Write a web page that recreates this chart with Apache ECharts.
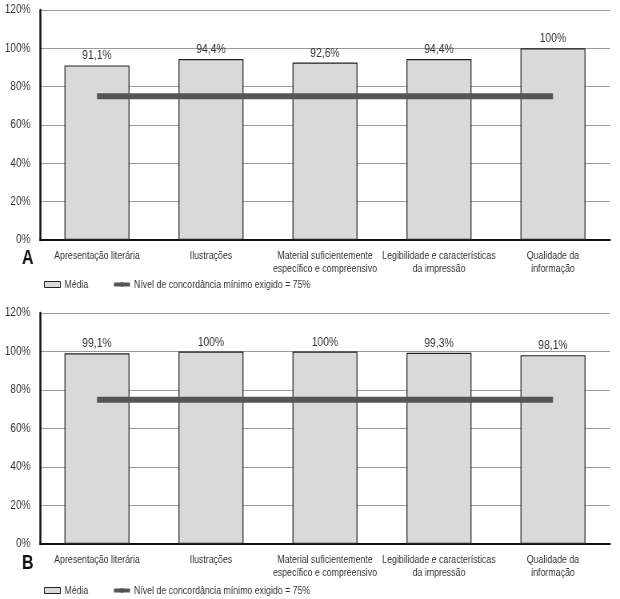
<!DOCTYPE html>
<html>
<head>
<meta charset="utf-8">
<script src="https://cdn.jsdelivr.net/npm/echarts@6/dist/echarts.min.js"></script>
<style>
html,body{margin:0;padding:0;background:#fff;overflow:hidden;width:620px;height:599px;}
/* condensed look: chart drawn wider, then squeezed horizontally */
#c{width:775px;height:599px;transform:scaleX(0.8);transform-origin:0 0;}
</style>
</head>
<body>
<div id="c"></div>
<script>
var categories = ['Apresentação literária', 'Ilustrações', 'Material suficientemente\nespecífico e compreensivo', 'Legibilidade e características\nda impressão', 'Qualidade da\ninformação'];
var mediaA = [91.1, 94.4, 92.6, 94.4, 100];
var mediaB = [99.1, 100, 100, 99.3, 98.1];
var minimo = [75, 75, 75, 75, 75];
var yTicks = [0, 20, 40, 60, 80, 100, 120];
var panelLetters = ['A', 'B'];
var nameMedia = 'Média';
var nameMin = 'Nível de concordância mínimo exigido = 75%';

var S = 0.8; // horizontal squeeze of the container
var FONT = "'Liberation Sans', Arial, sans-serif";
var TXT = '#333';

function fmtPct(v) {
  var s = (Math.round(v * 10) / 10).toString().replace('.', ',');
  return s + '%';
}

var grids = [
  {left: 40 / S, top: 10, width: 570 / S, height: 230},
  {left: 40 / S, top: 313, width: 570 / S, height: 231}
];

function xAxis(i) {
  return {
    type: 'category', gridIndex: i, data: categories,
    axisLine: {lineStyle: {color: '#111', width: 2}},
    axisTick: {show: false},
    axisLabel: {interval: 0, color: TXT, fontFamily: FONT, fontSize: 11, lineHeight: 13, margin: 9}
  };
}
function yAxis(i) {
  return {
    type: 'value', gridIndex: i, min: yTicks[0], max: yTicks[yTicks.length - 1], interval: 20,
    axisLine: {show: true, lineStyle: {color: '#111', width: 2.5}},
    axisTick: {show: false},
    splitLine: {lineStyle: {color: '#9a9a9a', width: 1}},
    axisLabel: {formatter: '{value}%', color: TXT, fontFamily: FONT, fontSize: 12.5, margin: 12}
  };
}
function barSeries(i, data) {
  return {
    name: nameMedia, type: 'bar', xAxisIndex: i, yAxisIndex: i, data: data,
    barWidth: '57%',
    itemStyle: {color: '#d9d9d9', borderColor: '#222', borderWidth: 1.2},
    label: {show: true, position: 'top', distance: 3, color: TXT, fontFamily: FONT, fontSize: 13,
      formatter: function (p) { return fmtPct(p.value); }},
    z: 2
  };
}
function lineSeries(i) {
  return {
    name: nameMin, type: 'line', xAxisIndex: i, yAxisIndex: i, data: minimo,
    symbol: 'none', lineStyle: {color: '#555', width: 6}, itemStyle: {color: '#555'},
    z: 5, silent: true
  };
}
function legend(top) {
  return {
    left: 44 / S, top: top, padding: 0, itemWidth: 16 / S, itemHeight: 6, itemGap: 24 / S, itemTextGap: 3 / S,
    textStyle: {color: TXT, fontFamily: FONT, fontSize: 11},
    data: [
      {name: nameMedia, icon: 'rect', itemStyle: {color: '#d9d9d9', borderColor: '#222', borderWidth: 1}},
      {name: nameMin, lineStyle: {color: '#555', width: 4, cap: 'butt'}}
    ]
  };
}

var option = {
  animation: false,
  grid: grids,
  xAxis: [xAxis(0), xAxis(1)],
  yAxis: [yAxis(0), yAxis(1)],
  legend: [legend(279), legend(585)],
  series: [barSeries(0, mediaA), lineSeries(0), barSeries(1, mediaB), lineSeries(1)],
  graphic: [
    {type: 'text', left: 22 / S, top: 248, style: {text: panelLetters[0], fill: '#111', font: "bold 20px " + FONT}},
    {type: 'text', left: 22 / S, top: 553, style: {text: panelLetters[1], fill: '#111', font: "bold 20px " + FONT}}
  ]
};

var chart = echarts.init(document.getElementById('c'));
chart.setOption(option);
</script>
</body>
</html>
